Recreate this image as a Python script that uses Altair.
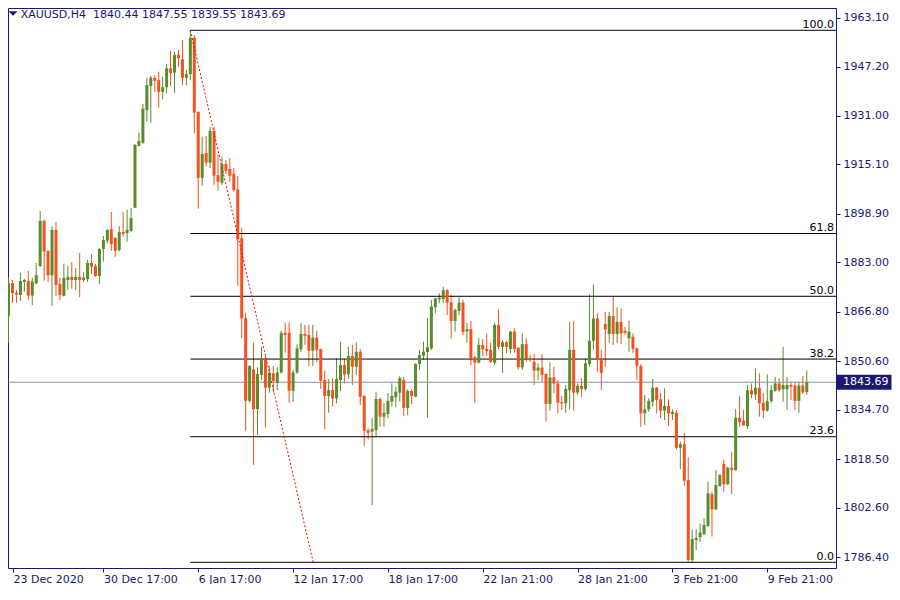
import altair as alt
import pandas as pd

# ---------------- data ----------------
opens = [1865.4, 1876.2, 1873.0, 1872.3, 1876.6, 1876.9, 1872.1, 1876.1, 1881.8, 1896.6,
         1886.7, 1878.8, 1893.6, 1875.9, 1872.0, 1877.2, 1878.2, 1877.2, 1878.2, 1877.2,
         1877.5, 1882.8, 1881.8, 1878.5, 1887.4, 1890.1, 1893.9, 1891.0, 1887.0, 1892.9,
         1892.6, 1893.3, 1900.9, 1921.2, 1922.2, 1932.9, 1940.8, 1943.5, 1942.8, 1938.9,
         1940.4, 1946.6, 1945.2, 1951.0, 1949.6, 1943.5, 1944.7, 1956.6, 1932.3, 1910.7,
         1918.8, 1915.7, 1926.1, 1911.6, 1909.1, 1915.2, 1913.6, 1912.0, 1906.9, 1890.9,
         1864.7, 1837.6, 1847.9, 1834.9, 1846.1, 1851.5, 1841.9, 1846.6, 1843.5, 1846.9,
         1859.9, 1859.9, 1840.9, 1846.9, 1854.5, 1859.5, 1859.2, 1854.0, 1858.3, 1854.6,
         1844.4, 1839.2, 1841.1, 1838.4, 1844.4, 1849.3, 1846.3, 1852.3, 1848.8, 1853.7,
         1839.2, 1828.0, 1827.5, 1828.0, 1838.2, 1832.4, 1833.3, 1837.3, 1838.8, 1840.3,
         1844.4, 1835.3, 1840.8, 1839.0, 1849.7, 1852.4, 1853.6, 1854.8, 1868.3, 1870.9,
         1871.0, 1873.9, 1869.9, 1863.8, 1867.1, 1869.8, 1860.3, 1861.1, 1851.9, 1850.1,
         1855.9, 1854.6, 1854.3, 1850.1, 1862.5, 1855.3, 1856.8, 1854.6, 1860.3, 1855.0,
         1848.6, 1856.2, 1851.5, 1850.4, 1847.5, 1848.5, 1846.4, 1836.6, 1845.3, 1843.3,
         1837.2, 1836.8, 1841.1, 1854.3, 1840.3, 1842.5, 1841.5, 1849.7, 1857.3, 1864.6,
         1851.2, 1862.8, 1859.5, 1865.4, 1859.5, 1863.5, 1860.6, 1858.1, 1858.6, 1854.8,
         1849.0, 1833.5, 1834.8, 1837.3, 1841.9, 1838.1, 1834.4, 1835.9, 1833.3, 1833.7,
         1822.2, 1823.4, 1811.6, 1785.4, 1792.0, 1792.9, 1793.9, 1796.6, 1807.0, 1802.0,
         1809.7, 1816.9, 1810.3, 1815.7, 1814.9, 1832.1, 1831.1, 1829.3, 1841.1, 1839.7,
         1841.9, 1837.0, 1834.4, 1837.5, 1840.9, 1843.3, 1841.4, 1841.4, 1842.8, 1842.6,
         1837.6, 1842.6, 1840.44]
highs = [1878.2, 1877.2, 1873.9, 1879.5, 1877.6, 1880.2, 1878.0, 1882.8, 1899.8, 1897.0,
         1887.0, 1894.9, 1896.2, 1877.9, 1882.5, 1881.8, 1883.1, 1881.1, 1886.1, 1879.8,
         1883.8, 1885.7, 1882.5, 1887.6, 1891.6, 1893.8, 1899.5, 1891.2, 1894.9, 1899.5,
         1900.2, 1900.8, 1921.8, 1925.5, 1934.9, 1943.5, 1944.1, 1944.4, 1945.5, 1943.9,
         1948.0, 1952.3, 1952.1, 1952.6, 1955.9, 1946.1, 1959.1, 1957.5, 1932.5, 1924.2,
         1924.4, 1927.5, 1927.5, 1918.2, 1917.6, 1916.5, 1917.2, 1913.9, 1911.3, 1894.4,
         1866.5, 1849.3, 1856.7, 1848.6, 1855.3, 1852.3, 1849.0, 1849.0, 1848.6, 1860.6,
         1863.3, 1863.3, 1847.7, 1856.1, 1863.0, 1862.5, 1862.5, 1862.5, 1860.6, 1854.6,
         1847.5, 1844.7, 1845.0, 1851.5, 1857.0, 1851.5, 1855.3, 1855.9, 1856.8, 1854.6,
         1839.5, 1828.6, 1831.9, 1840.6, 1838.8, 1836.8, 1840.1, 1843.3, 1842.2, 1845.7,
         1845.5, 1841.4, 1841.4, 1849.9, 1854.3, 1857.0, 1864.7, 1870.7, 1871.4, 1872.8,
         1875.0, 1874.2, 1872.3, 1867.9, 1871.5, 1870.7, 1863.2, 1863.8, 1852.3, 1858.1,
         1857.8, 1859.7, 1856.7, 1863.2, 1867.6, 1857.5, 1857.2, 1860.5, 1861.4, 1855.2,
         1859.7, 1858.1, 1852.6, 1853.0, 1849.9, 1853.0, 1846.6, 1850.2, 1848.8, 1844.4,
         1839.2, 1842.8, 1863.5, 1863.8, 1843.3, 1845.0, 1851.5, 1872.5, 1875.6, 1866.3,
         1854.3, 1866.8, 1866.8, 1871.7, 1868.3, 1867.9, 1861.9, 1863.9, 1859.7, 1855.0,
         1849.7, 1839.5, 1838.4, 1844.8, 1842.2, 1840.3, 1841.7, 1838.1, 1834.8, 1834.6,
         1824.2, 1827.1, 1819.1, 1795.3, 1795.5, 1797.4, 1799.1, 1811.1, 1807.8, 1814.9,
         1813.6, 1818.4, 1816.0, 1820.9, 1834.9, 1839.2, 1834.6, 1842.8, 1843.3, 1848.3,
         1846.6, 1840.1, 1846.3, 1842.8, 1845.5, 1845.0, 1855.3, 1845.5, 1843.9, 1843.9,
         1843.9, 1845.7, 1847.55]
lows = [1856.6, 1869.7, 1869.7, 1870.4, 1873.4, 1870.7, 1869.0, 1875.9, 1881.5, 1877.0,
        1876.6, 1868.7, 1872.0, 1870.7, 1871.8, 1873.9, 1874.3, 1873.9, 1871.6, 1876.6,
        1876.6, 1879.2, 1878.3, 1875.9, 1883.2, 1889.3, 1886.8, 1884.8, 1886.5, 1891.4,
        1889.8, 1892.9, 1900.8, 1921.0, 1921.8, 1929.1, 1928.8, 1938.9, 1933.7, 1936.4,
        1938.4, 1940.8, 1938.6, 1947.1, 1941.1, 1941.1, 1942.8, 1925.3, 1900.6, 1908.1,
        1914.4, 1913.9, 1908.4, 1906.5, 1908.4, 1911.9, 1909.4, 1906.2, 1875.3, 1858.1,
        1827.8, 1837.0, 1816.6, 1826.4, 1844.4, 1828.8, 1840.3, 1840.3, 1841.1, 1846.6,
        1853.4, 1837.0, 1837.3, 1846.4, 1853.7, 1855.9, 1849.0, 1849.0, 1850.2, 1841.5,
        1828.3, 1833.7, 1835.7, 1836.8, 1840.8, 1843.3, 1844.8, 1842.8, 1846.1, 1836.2,
        1822.8, 1825.0, 1803.4, 1826.1, 1829.1, 1829.1, 1831.9, 1835.7, 1835.5, 1837.3,
        1832.6, 1832.9, 1836.5, 1838.8, 1847.7, 1851.0, 1832.1, 1854.3, 1866.3, 1869.6,
        1869.6, 1865.7, 1857.9, 1860.3, 1865.7, 1859.2, 1856.7, 1849.3, 1837.0, 1849.9,
        1852.1, 1852.3, 1849.9, 1849.3, 1854.5, 1846.8, 1853.2, 1853.2, 1853.4, 1847.9,
        1847.7, 1850.4, 1850.4, 1842.8, 1844.4, 1843.9, 1830.8, 1834.4, 1840.1, 1833.5,
        1834.6, 1833.7, 1834.8, 1834.4, 1839.5, 1838.8, 1840.9, 1848.8, 1854.3, 1847.1,
        1841.1, 1848.8, 1856.7, 1855.9, 1856.5, 1856.2, 1859.2, 1853.7, 1853.4, 1844.4,
        1829.1, 1829.7, 1834.0, 1835.7, 1833.5, 1831.9, 1831.3, 1829.4, 1831.3, 1821.5,
        1815.2, 1809.7, 1784.9, 1784.5, 1788.7, 1791.4, 1793.6, 1796.3, 1793.1, 1801.8,
        1809.4, 1807.8, 1810.0, 1807.0, 1814.7, 1829.1, 1829.3, 1828.4, 1838.5, 1837.9,
        1832.4, 1831.9, 1834.0, 1836.8, 1840.6, 1840.6, 1837.3, 1834.6, 1837.9, 1834.6,
        1833.7, 1839.8, 1839.55]
closes = [1876.2, 1872.9, 1872.4, 1876.9, 1877.2, 1872.1, 1876.7, 1878.8, 1896.6, 1886.5,
          1878.8, 1893.6, 1875.6, 1872.3, 1877.9, 1878.2, 1877.2, 1878.2, 1877.2, 1878.0,
          1882.8, 1881.6, 1878.5, 1887.4, 1890.3, 1893.6, 1889.0, 1886.8, 1892.9, 1892.3,
          1893.6, 1897.5, 1921.5, 1922.8, 1933.4, 1941.1, 1943.5, 1942.5, 1938.9, 1940.4,
          1946.6, 1945.0, 1951.0, 1949.9, 1943.5, 1944.7, 1956.6, 1932.1, 1910.7, 1918.5,
          1915.7, 1926.1, 1911.4, 1909.4, 1915.2, 1913.0, 1911.4, 1906.7, 1890.5, 1864.6,
          1837.6, 1849.0, 1834.9, 1846.4, 1851.5, 1841.9, 1846.8, 1844.1, 1846.9, 1859.9,
          1859.2, 1840.9, 1846.9, 1854.8, 1859.5, 1858.9, 1854.0, 1858.3, 1854.3, 1844.2,
          1839.2, 1841.1, 1838.4, 1844.7, 1849.3, 1846.3, 1852.3, 1848.8, 1853.7, 1838.9,
          1827.8, 1827.1, 1828.4, 1838.2, 1832.4, 1833.7, 1837.6, 1839.2, 1840.6, 1845.0,
          1835.3, 1840.8, 1839.2, 1849.7, 1852.6, 1853.7, 1855.2, 1868.5, 1871.2, 1871.4,
          1873.9, 1869.8, 1863.8, 1867.4, 1869.8, 1860.1, 1861.1, 1851.2, 1850.1, 1855.9,
          1854.5, 1853.9, 1850.4, 1862.5, 1855.3, 1856.8, 1855.3, 1860.3, 1854.6, 1848.6,
          1856.2, 1851.2, 1851.0, 1847.5, 1848.5, 1846.1, 1836.6, 1845.3, 1843.3, 1837.0,
          1836.8, 1841.5, 1854.3, 1840.3, 1842.5, 1841.5, 1849.9, 1857.3, 1864.6, 1851.0,
          1846.8, 1861.0, 1865.4, 1859.5, 1863.5, 1859.7, 1859.9, 1860.3, 1854.6, 1849.1,
          1833.5, 1834.8, 1837.5, 1841.9, 1837.9, 1834.4, 1835.9, 1833.5, 1834.0, 1822.2,
          1823.4, 1811.4, 1785.4, 1792.3, 1792.7, 1794.4, 1796.9, 1807.3, 1802.0, 1810.0,
          1813.3, 1810.3, 1815.7, 1814.9, 1832.1, 1830.6, 1829.6, 1841.1, 1839.7, 1841.9,
          1836.8, 1834.4, 1837.5, 1841.1, 1843.3, 1841.1, 1842.8, 1842.8, 1842.2, 1837.6,
          1842.6, 1840.3, 1843.69]

x_tick_bars = [0, 24, 48, 72, 96, 120, 144, 168, 192]
x_tick_labels = ["23 Dec 2020", "30 Dec 17:00", "6 Jan 17:00", "12 Jan 17:00",
                 "18 Jan 17:00", "22 Jan 21:00", "28 Jan 21:00", "3 Feb 21:00",
                 "9 Feb 21:00"]
y_ticks = [1963.10, 1947.20, 1931.00, 1915.10, 1898.90, 1883.00, 1866.80,
           1850.60, 1834.70, 1818.50, 1802.60, 1786.40]

fib_levels = [0.0, 23.6, 38.2, 50.0, 61.8, 100.0]
fib_high = 1959.07
fib_low = 1784.67
fib_start_bar = 46

trend_bars = [46, 77.1]
trend_prices = [1959.07, 1784.67]

symbol = "XAUUSD,H4"

# ---------------- style ----------------
W, H = 828, 560
NAVY = "#191970"
UP = "#5B8C2A"
DOWN = "#F4511E"
FONT = "DejaVu Sans"
X_DOMAIN = [1.125, 208.125]
Y_DOMAIN = [1782.80, 1966.378]

n = len(opens)
df = pd.DataFrame({"bar": list(range(n)), "open": opens, "high": highs,
                   "low": lows, "close": closes})
df["dir"] = ["up" if c >= o else "down" for o, c in zip(opens, closes)]
top = df[["open", "close"]].max(axis=1)
bot = df[["open", "close"]].min(axis=1)
mid = (top + bot) / 2
min_body = 0.34  # ~1 px so that doji bodies stay visible
small = (top - bot) < min_body
df["btop"] = top.where(~small, mid + min_body / 2)
df["bbot"] = bot.where(~small, mid - min_body / 2)

x_scale = alt.Scale(domain=X_DOMAIN, nice=False, zero=False)
y_scale = alt.Scale(domain=Y_DOMAIN, nice=False, zero=False)
color_scale = alt.Scale(domain=["up", "down"], range=[UP, DOWN])

tick_pos = [max(b, X_DOMAIN[0]) for b in x_tick_bars]
label_expr = " : ".join(
    f"abs(datum.value - {p}) < 2 ? '{s}'" for p, s in zip(tick_pos, x_tick_labels)
) + " : ''"

x_axis = alt.Axis(values=tick_pos, labelExpr=label_expr, orient="bottom",
                  domain=False, ticks=True, tickColor=NAVY, tickSize=4,
                  labelColor=NAVY, labelFont=FONT, labelFontSize=11,
                  labelAlign="left", labelBaseline="top", labelPadding=1,
                  labelFlush=False, labelOverlap=False, grid=False, title=None)
y_axis = alt.Axis(values=y_ticks, format=".2f", orient="right", domain=False,
                  ticks=True, tickColor=NAVY, tickSize=4, labelColor=NAVY,
                  labelFont=FONT, labelFontSize=11, labelPadding=3,
                  labelBaseline="middle", labelFlush=False, labelOverlap=False,
                  grid=False, title=None)


def X(field):
    return alt.X(field, scale=x_scale, axis=x_axis)


def Y(field):
    return alt.Y(field, scale=y_scale, axis=y_axis)


base = alt.Chart(df)

wicks = base.mark_rule(strokeWidth=1, clip=True).encode(
    x=X("bar:Q"), y=Y("low:Q"), y2="high:Q",
    color=alt.Color("dir:N", scale=color_scale, legend=None),
)
bodies = base.mark_bar(size=3, clip=True).encode(
    x=X("bar:Q"), y=Y("bbot:Q"), y2="btop:Q",
    color=alt.Color("dir:N", scale=color_scale, legend=None),
)

# current price line and its label box
price_df = pd.DataFrame({"price": [closes[-1]], "label": [f"{closes[-1]:.2f}"]})
price_line = alt.Chart(price_df).mark_rule(color="#8A939C", strokeWidth=1).encode(
    y=Y("price:Q"), x=alt.value(0.5), x2=alt.value(W),
)
price_box = alt.Chart(price_df).mark_point(
    shape="M-1,-0.2727L1,-0.2727L1,0.2727L-1,0.2727Z", size=55 * 55,
    filled=True, color=NAVY, opacity=1, strokeWidth=0
).encode(y=Y("price:Q"), x=alt.value(W + 28))
price_text = alt.Chart(price_df).mark_text(
    color="white", font=FONT, fontSize=11, align="left", baseline="middle"
).encode(y=Y("price:Q"), x=alt.value(W + 7), text="label:N")

# Fibonacci retracement
fib_df = pd.DataFrame({
    "level": fib_levels,
    "price": [fib_low + lv / 100.0 * (fib_high - fib_low) for lv in fib_levels],
    "start": [fib_start_bar] * len(fib_levels),
})
fib_df["label"] = [f"{lv:.1f}" for lv in fib_levels]
fib_lines = alt.Chart(fib_df).mark_rule(color="black", strokeWidth=1).encode(
    x=X("start:Q"), x2=alt.value(W), y=Y("price:Q"),
)
fib_labels = alt.Chart(fib_df).mark_text(
    color="black", font=FONT, fontSize=11, align="right", baseline="alphabetic", dy=-2.5
).encode(x=alt.value(W - 2), y=Y("price:Q"), text="label:N")

trend_df = pd.DataFrame({"bar": trend_bars, "price": trend_prices})
trend = alt.Chart(trend_df).mark_line(color="#FF0000", strokeWidth=1, strokeDash=[2, 2]).encode(
    x=X("bar:Q"), y=Y("price:Q"),
)

# header
header_df = pd.DataFrame({"t": [
    f"{symbol}\u00a0\u00a0{opens[-1]:.2f} {highs[-1]:.2f} {lows[-1]:.2f} {closes[-1]:.2f}"
]})
header = alt.Chart(header_df).mark_text(
    color=NAVY, font=FONT, fontSize=11, align="left", baseline="alphabetic"
).encode(x=alt.value(12.7), y=alt.value(10.3), text="t:N")
tri = alt.Chart(header_df).mark_point(
    shape="M-1,-0.48L1,-0.48L0,0.48Z", size=81, filled=True, color=NAVY,
    opacity=1, strokeWidth=0
).encode(x=alt.value(5), y=alt.value(5.5))

chart = alt.layer(
    wicks, price_line, fib_lines, bodies, trend, fib_labels,
    price_box, price_text, header, tri
).properties(
    width=W, height=H, padding=0, background="white"
).configure_view(
    stroke=NAVY, strokeWidth=1
)

chart.save("out.html", embed_options={"renderer": "svg", "actions": False})
